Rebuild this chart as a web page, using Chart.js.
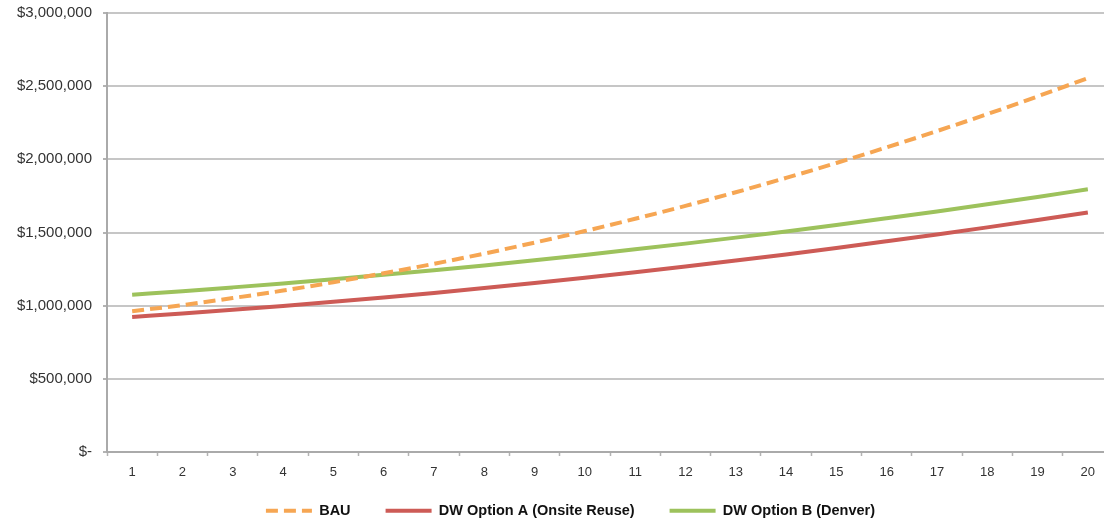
<!DOCTYPE html>
<html>
<head>
<meta charset="utf-8">
<script src="https://cdn.jsdelivr.net/npm/chart.js@4/dist/chart.umd.min.js"></script>
<style>
  html, body { margin: 0; padding: 0; background: #fff; overflow: hidden; }
  #wrap { position: absolute; left: 0; top: 0; width: 1116px; height: 528px; }
</style>
</head>
<body>
<div id="wrap"><canvas id="chart"></canvas></div>
<script>
// Years of the projection
const years = ['1','2','3','4','5','6','7','8','9','10','11','12','13','14','15','16','17','18','19','20'];

// Cumulative cost per scenario (USD)
const bau = [962000, 1004000, 1052000, 1103000, 1160000, 1221000, 1286000, 1356000, 1431000, 1510000,
             1594000, 1682000, 1775000, 1873000, 1975000, 2082000, 2193000, 2309000, 2430000, 2555000];
const optionA = [923000, 947000, 972000, 998000, 1026000, 1056000, 1087000, 1120000, 1155000, 1191000,
                 1228000, 1267000, 1308000, 1350000, 1394000, 1440000, 1487000, 1535000, 1585000, 1637000];
const optionB = [1075000, 1099000, 1125000, 1152000, 1180000, 1211000, 1242000, 1275000, 1310000, 1347000,
                 1385000, 1424000, 1465000, 1507000, 1551000, 1597000, 1644000, 1693000, 1743000, 1795000];

const seriesNames = ['BAU', 'DW Option A (Onsite Reuse)', 'DW Option B (Denver)'];

// Y axis range
const yMin = 0;
const yMax = 3000000;
const yStep = 500000;

const fmtMoney = v => v === 0 ? '$-' : '$' + Number(v).toLocaleString('en-US');
const FONT = '"Liberation Sans", Arial, Helvetica, sans-serif';

// Give the year labels room below the axis and nudge the legend row to the right.
const layoutTweaks = {
  id: 'layoutTweaks',
  afterLayout(chart) {
    const x = chart.scales.x;
    x.bottom = x.top + 32;
    chart.legend.left += 14;
    chart.legend.right += 14;
  }
};

// Legend samples: keep each series' dash pattern in its line sample.
const legendLabels = chart => {
  const items = Chart.defaults.plugins.legend.labels.generateLabels(chart);
  items.forEach(it => {
    const ds = chart.data.datasets[it.datasetIndex];
    it.lineDash = ds.borderDash || [];
    it.lineWidth = ds.borderWidth;
    it.strokeStyle = ds.borderColor;
  });
  return items;
};

const ctx = document.getElementById('chart');
new Chart(ctx, {
  type: 'line',
  data: {
    labels: years,
    datasets: [
      {
        label: seriesNames[0],
        data: bau,
        borderColor: '#F6A653',
        backgroundColor: '#F6A653',
        borderWidth: 4,
        borderDash: [12, 6],
        pointRadius: 0,
        pointStyle: 'line',
        cubicInterpolationMode: 'monotone',
        fill: false
      },
      {
        label: seriesNames[1],
        data: optionA,
        borderColor: '#CD5B56',
        backgroundColor: '#CD5B56',
        borderWidth: 4,
        pointRadius: 0,
        pointStyle: 'line',
        cubicInterpolationMode: 'monotone',
        fill: false
      },
      {
        label: seriesNames[2],
        data: optionB,
        borderColor: '#9DC25C',
        backgroundColor: '#9DC25C',
        borderWidth: 4,
        pointRadius: 0,
        pointStyle: 'line',
        cubicInterpolationMode: 'monotone',
        fill: false
      }
    ]
  },
  options: {
    responsive: true,
    maintainAspectRatio: false,
    devicePixelRatio: 1,
    animation: false,
    layout: { padding: { top: 13, left: 0, right: 3, bottom: 0 } },
    plugins: {
      tooltip: { enabled: false },
      legend: {
        position: 'bottom',
        labels: {
          usePointStyle: true,
          pointStyle: 'line',
          pointStyleWidth: 46,
          boxHeight: 4,
          padding: 35,
          color: '#111',
          font: { family: FONT, size: 14.5, weight: 'bold' },
          generateLabels: legendLabels
        }
      }
    },
    scales: {
      x: {
        offset: true,
        grid: {
          display: true,
          drawOnChartArea: false,
          drawTicks: true,
          tickLength: 4,
          tickWidth: 1.5,
          tickColor: '#b3b3b3',
          offset: true
        },
        border: { display: true, color: '#aaaaaa', width: 2 },
        ticks: {
          padding: 9,
          color: '#333',
          maxRotation: 0,
          autoSkip: false,
          font: { family: FONT, size: 13 }
        },
        afterFit: s => { s.height = 16.5; }
      },
      y: {
        min: yMin,
        max: yMax,
        grid: {
          color: '#c6c6c6',
          lineWidth: 2,
          drawTicks: true,
          tickLength: 4,
          tickColor: '#b3b3b3'
        },
        border: { display: true, color: '#aaaaaa', width: 2 },
        ticks: {
          stepSize: yStep,
          padding: 11,
          color: '#333',
          font: { family: FONT, size: 15 },
          callback: v => fmtMoney(v)
        },
        afterFit: s => { s.width = 107; s.paddingTop = 0; s.paddingBottom = 0; }
      }
    }
  },
  plugins: [layoutTweaks]
});
</script>
</body>
</html>
